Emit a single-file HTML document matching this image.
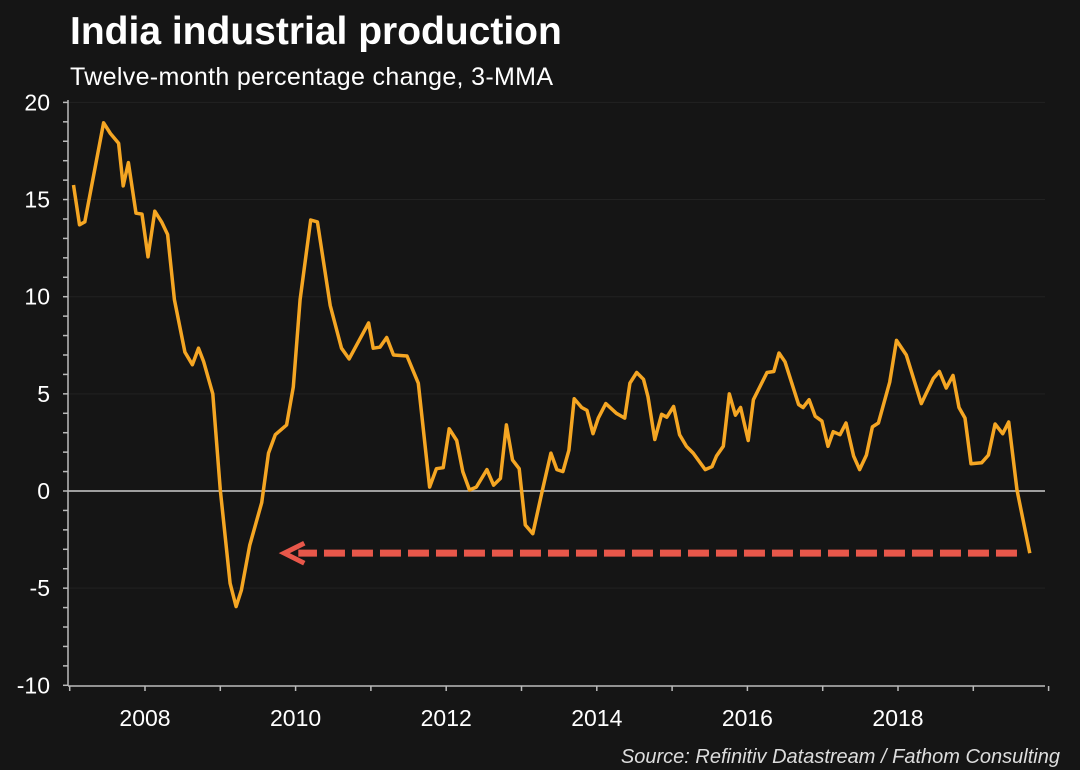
<!DOCTYPE html>
<html><head><meta charset="utf-8"><style>
html,body{margin:0;padding:0;background:#151515;}
svg{display:block;font-family:"Liberation Sans",sans-serif;}
</style></head><body>
<svg id="chart" width="1080" height="770" viewBox="0 0 1080 770">
<rect width="1080" height="770" fill="#151515"/>
<text x="70" y="44" fill="#fff" font-size="39" font-weight="bold">India industrial production</text>
<text x="70" y="85" fill="#fff" font-size="25" textLength="483">Twelve-month percentage change, 3-MMA</text>
<g id="grid"></g>
<g id="yaxis"></g>
<g id="xaxis"></g>
<g id="series"></g>
<g id="arrow"></g>
<text x="1060" y="763" text-anchor="end" fill="#ddd" font-size="20" font-style="italic">Source: Refinitiv Datastream / Fathom Consulting</text>
</svg>
<script>
const dates = [2007.05,2007.13,2007.20,2007.45,2007.54,2007.65,2007.71,2007.78,2007.88,2007.96,2008.04,2008.13,2008.22,2008.30,2008.39,2008.53,2008.63,2008.71,2008.78,2008.90,2009.00,2009.13,2009.21,2009.28,2009.39,2009.55,2009.64,2009.73,2009.88,2009.97,2010.06,2010.20,2010.29,2010.46,2010.61,2010.71,2010.97,2011.03,2011.12,2011.21,2011.30,2011.48,2011.63,2011.78,2011.87,2011.96,2012.04,2012.14,2012.22,2012.31,2012.40,2012.54,2012.63,2012.72,2012.80,2012.88,2012.97,2013.05,2013.15,2013.27,2013.39,2013.47,2013.55,2013.63,2013.70,2013.80,2013.87,2013.95,2014.02,2014.12,2014.26,2014.37,2014.44,2014.53,2014.62,2014.68,2014.77,2014.86,2014.93,2015.02,2015.10,2015.19,2015.28,2015.44,2015.53,2015.59,2015.68,2015.76,2015.84,2015.91,2016.01,2016.08,2016.17,2016.26,2016.35,2016.42,2016.50,2016.59,2016.68,2016.74,2016.82,2016.90,2016.99,2017.07,2017.14,2017.23,2017.31,2017.41,2017.49,2017.58,2017.66,2017.74,2017.89,2017.98,2018.11,2018.31,2018.47,2018.55,2018.64,2018.73,2018.81,2018.89,2018.97,2019.11,2019.20,2019.29,2019.39,2019.47,2019.58,2019.75];
const values = [15.75,13.7,13.85,18.95,18.4,17.9,15.7,16.9,14.3,14.25,12.05,14.4,13.85,13.2,9.85,7.15,6.5,7.35,6.65,5.0,0.05,-4.75,-5.95,-5.1,-2.8,-0.6,1.95,2.9,3.4,5.35,9.85,13.95,13.85,9.55,7.35,6.8,8.65,7.35,7.4,7.9,7.0,6.95,5.55,0.2,1.15,1.2,3.2,2.6,1.0,0.05,0.2,1.1,0.3,0.65,3.4,1.6,1.15,-1.75,-2.2,-0.1,1.95,1.1,1.0,2.1,4.75,4.3,4.15,2.95,3.75,4.5,4.0,3.75,5.55,6.1,5.75,4.85,2.65,3.95,3.8,4.35,2.9,2.3,1.95,1.1,1.25,1.8,2.3,5.0,3.9,4.3,2.6,4.7,5.4,6.1,6.15,7.1,6.65,5.55,4.45,4.3,4.7,3.85,3.6,2.3,3.05,2.9,3.5,1.8,1.1,1.85,3.3,3.5,5.6,7.75,7.0,4.5,5.8,6.15,5.3,5.95,4.3,3.75,1.4,1.45,1.85,3.45,2.95,3.55,0.05,-3.2];
const yTicks = [20,15,10,5,0,-5,-10];
const xTicks = [2008,2010,2012,2014,2016,2018];
const arrowFrom = [2019.58,-3.2];
const arrowTo = [2009.85,-3.2];

const NS="http://www.w3.org/2000/svg";
const L=68,R=1045,T=103,B=686;
const x=v=>145+(v-2008)*75.3;
const y=v=>491-v*19.43;
function mk(tag,attrs,parent){const e=document.createElementNS(NS,tag);for(const k in attrs)e.setAttribute(k,attrs[k]);parent.appendChild(e);return e;}
const grid=document.getElementById('grid'),ya=document.getElementById('yaxis'),xa=document.getElementById('xaxis'),se=document.getElementById('series'),ar=document.getElementById('arrow');
yTicks.forEach(t=>{
  if(t!==0&&t!==-10){const g=mk('line',{x1:L,x2:R,y1:y(t),y2:y(t),stroke:'#222',"stroke-width":1},grid);
  
  }
  const tx=mk('text',{x:50,y:y(t)+8,"text-anchor":"end",fill:"#fff","font-size":23},ya);tx.textContent=t;
  
  
});
for(let v=-10;v<=20;v++){const tk=mk('line',{x1:L-5,x2:L,y1:y(v),y2:y(v),stroke:'#bbb',"stroke-width":1.5},ya);
  
  }
const yl=mk('line',{x1:L,x2:L,y1:T-3,y2:B,stroke:'#bbb',"stroke-width":1.5},ya);


const zl=mk('line',{x1:L,x2:R,y1:y(0),y2:y(0),stroke:'#ccc',"stroke-width":1.5},grid);


const xl=mk('line',{x1:L,x2:R,y1:B,y2:B,stroke:'#bbb',"stroke-width":1.5},xa);


for(let yr=2007;yr<=2020;yr++){const tk=mk('line',{x1:x(yr),x2:x(yr),y1:B,y2:B+5,stroke:'#bbb',"stroke-width":1.5},xa);
  
  }
xTicks.forEach(t=>{const tx=mk('text',{x:x(t),y:726,"text-anchor":"middle",fill:"#fff","font-size":23},xa);tx.textContent=t;
  
  });
const pts=dates.map((d,i)=>x(d).toFixed(1)+','+y(values[i]).toFixed(1)).join(' ');
const pl=mk('polyline',{points:pts,fill:'none',stroke:'#f5a623',"stroke-width":3.5,"stroke-linejoin":"round"},se);


const ax1=x(arrowFrom[0]),ax2=x(arrowTo[0]),ay=y(arrowFrom[1]);
const dl=mk('line',{x1:ax1,x2:ax2+14,y1:ay,y2:ay,stroke:'#e8574a',"stroke-width":7,"stroke-dasharray":"21 7"},ar);


const hd=mk('polyline',{points:`${ax2+20},${ay-10} ${ax2},${ay} ${ax2+20},${ay+10}`,fill:'none',stroke:'#e8574a',"stroke-width":5,"stroke-linejoin":"miter"},ar);


</script>
</body></html>
